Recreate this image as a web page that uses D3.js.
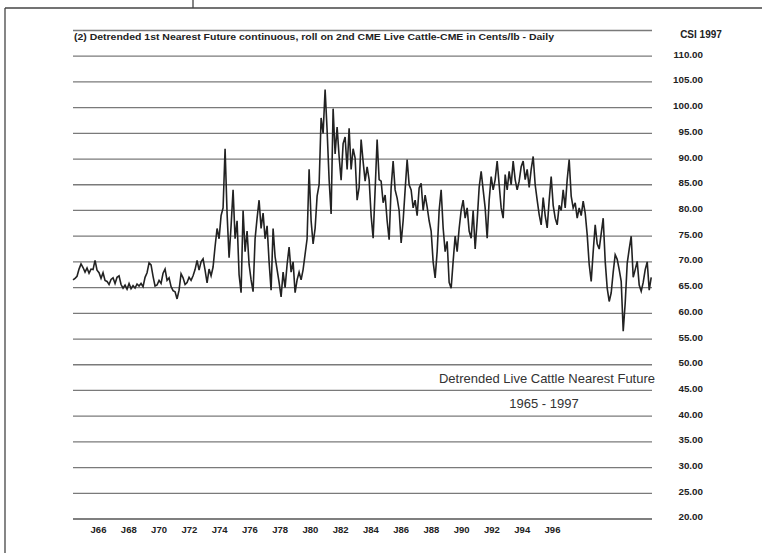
<!DOCTYPE html>
<html>
<head>
<meta charset="utf-8">
<script src="https://cdnjs.cloudflare.com/ajax/libs/d3/7.8.5/d3.min.js"></script>
<style>
  body { margin: 0; background: #fff; }
  svg { display: block; }
</style>
</head>
<body>
<div id="chart"></div>
<script>
// tick labels for the time axis and the price axis
var yearTicks = [1966, 1968, 1970, 1972, 1974, 1976, 1978, 1980, 1982, 1984, 1986, 1988, 1990, 1992, 1994, 1996];
var yearLabels = ["J66", "J68", "J70", "J72", "J74", "J76", "J78", "J80", "J82", "J84", "J86", "J88", "J90", "J92", "J94", "J96"];
var priceTicks = [20, 25, 30, 35, 40, 45, 50, 55, 60, 65, 70, 75, 80, 85, 90, 95, 100, 105, 110];
var gridValues = [20, 25, 30, 35, 40, 45, 50, 55, 60, 65, 70, 75, 80, 85, 90, 95, 100, 105, 110, 115];

// first sample and spacing of the samples (years)
var firstYear = 1964.35;
var stepYears = 0.1322;

// detrended price, cents/lb
var prices = [
  66.5, 66.8, 67.2, 68.6, 69.6, 68.9, 68.0, 68.8, 67.8, 68.6,
  68.5, 70.3, 68.4, 67.9, 66.8, 67.9, 66.4, 66.2, 65.6, 66.6,
  66.9, 65.8, 67.0, 67.3, 65.6, 64.9, 65.5, 64.7, 65.8, 64.8,
  65.4, 64.9, 65.7, 65.3, 65.8, 65.2, 67.0, 67.9, 69.8, 69.4,
  67.2, 65.3, 65.5, 66.4, 65.8, 67.8, 68.6, 66.4, 66.9, 65.2,
  64.4, 64.2, 62.8, 64.5, 67.7, 66.9, 65.6, 66.0, 67.0, 66.4,
  67.3, 68.5, 70.3, 68.4, 70.0, 70.6, 68.4, 65.9, 68.6, 67.3,
  69.0, 73.0, 76.5, 74.5, 79.0, 80.5, 92.0, 79.4, 70.8, 77.0,
  84.0, 74.5, 78.0, 67.5, 64.0, 80.0, 72.0, 76.0, 69.5, 66.5,
  64.2, 74.5, 78.5, 82.0, 76.5, 79.5, 74.5, 77.0, 70.0, 64.5,
  76.5, 71.0, 68.5, 66.0, 63.2, 68.0, 65.0, 69.5, 72.9, 68.0,
  70.0, 64.0, 66.5, 68.0, 66.5, 68.5, 71.5, 74.5, 88.0, 78.0,
  73.5, 76.5, 82.8, 85.0, 98.0, 95.0, 103.5, 95.6, 86.0, 79.3,
  99.8, 91.0, 96.2, 90.5, 85.9, 93.0, 94.3, 88.0, 96.0, 88.0,
  92.0, 90.2, 82.0, 84.5, 93.8, 89.5, 85.7, 88.5, 86.0, 79.0,
  74.6, 84.0, 93.8, 86.0, 85.7, 81.5, 83.0, 78.0, 74.3, 84.4,
  89.6, 84.0, 82.4, 80.0, 73.7, 78.0, 84.0, 89.9, 85.0, 84.0,
  80.5, 82.0, 79.0, 84.4, 85.3, 80.0, 83.0, 80.7, 78.0, 76.0,
  70.0, 66.9, 72.0, 80.0, 84.0, 76.6, 72.0, 74.0, 66.0, 64.9,
  70.1, 75.0, 72.0, 76.5, 80.0, 82.0, 78.5, 80.5, 76.0, 74.6,
  80.0, 72.5, 78.0, 84.5, 87.6, 84.0, 80.5, 74.6, 82.0, 86.6,
  84.0, 86.0, 89.6, 85.0, 80.5, 78.5, 87.0, 84.0, 87.6, 85.0,
  89.6, 86.0, 84.0, 85.7, 88.5, 89.6, 86.0, 88.0, 84.5, 88.0,
  90.5, 85.0, 82.0, 79.2, 77.2, 82.5, 79.0, 76.6, 82.0, 86.6,
  81.0, 78.5, 77.2, 81.0, 80.0, 84.0, 80.5, 86.0, 89.9, 82.8,
  80.5, 81.5, 78.5, 80.5, 79.0, 81.8, 79.5, 75.3, 69.5, 66.2,
  72.0, 77.2, 73.5, 72.5, 75.5, 78.5, 70.1, 64.9, 62.3, 64.0,
  68.0, 71.4, 70.5, 68.5, 66.2, 56.5, 62.0, 69.7, 72.5, 75.0,
  67.0, 68.5, 70.1, 65.5, 64.3, 66.0, 68.5, 70.0, 64.5, 67.0
];

window.onload = function() {
  drawChart();
};

function drawChart() {
  var width = 762;
  var height = 553;
  var font = "Liberation Sans, Arial, sans-serif";

  var svg = d3.select("#chart")
              .append("svg")
              .attr("width", width)
              .attr("height", height);

  // page frame from the scan
  var frame = svg.append("g")
                 .attr("stroke", "#444")
                 .attr("stroke-width", 1.3);
  frame.append("line").attr("x1", 5).attr("y1", 8).attr("x2", 762).attr("y2", 8);
  frame.append("line").attr("x1", 5).attr("y1", 8).attr("x2", 5).attr("y2", 553);
  frame.append("line").attr("x1", 193).attr("y1", 0).attr("x2", 193).attr("y2", 8);

  // scales
  var x = d3.scaleLinear()
            .domain([1966, 1996])
            .range([98, 552]);
  var y = d3.scaleLinear()
            .domain([20, 115])
            .range([519, 30.5]);

  // horizontal grid lines
  svg.append("g")
     .selectAll("line")
     .data(gridValues)
     .enter()
     .append("line")
     .attr("x1", 73)
     .attr("x2", 652)
     .attr("y1", function(d) { return y(d); })
     .attr("y2", function(d) { return y(d); })
     .attr("stroke", function(d) { return d === 20 ? "#555" : "#7a7a7a"; })
     .attr("stroke-width", function(d) { return d === 20 ? 1.7 : 1.3; });

  // price labels on the right
  var yAxis = d3.axisRight(y)
                .tickValues(priceTicks)
                .tickFormat(d3.format(".2f"))
                .tickSize(0)
                .tickPadding(0);
  var yg = svg.append("g")
              .attr("transform", "translate(703,0)")
              .call(yAxis);
  yg.select(".domain").remove();
  yg.selectAll("text")
    .attr("text-anchor", "end")
    .attr("dy", "0.1em")
    .attr("font-family", font)
    .attr("font-weight", "bold")
    .attr("font-size", 9.8)
    .attr("fill", "#222");

  // date labels at the bottom
  var xAxis = d3.axisBottom(x)
                .tickValues(yearTicks)
                .tickFormat(function(d, i) { return yearLabels[i]; })
                .tickSize(0)
                .tickPadding(0);
  var xg = svg.append("g")
              .attr("transform", "translate(0,526)")
              .call(xAxis);
  xg.select(".domain").remove();
  xg.selectAll("text")
    .attr("font-family", font)
    .attr("font-weight", "bold")
    .attr("font-size", 9.5)
    .attr("fill", "#222");

  // the price line
  var line = d3.line()
               .x(function(d, i) { return x(firstYear + i * stepYears); })
               .y(function(d) { return y(d); });
  svg.append("path")
     .datum(prices)
     .attr("d", line)
     .attr("fill", "none")
     .attr("stroke", "#222")
     .attr("stroke-width", 1.6)
     .attr("stroke-linejoin", "miter");

  // titles
  svg.append("text")
     .attr("x", 74)
     .attr("y", 40)
     .attr("textLength", 480)
     .attr("lengthAdjust", "spacingAndGlyphs")
     .attr("font-family", font)
     .attr("font-weight", "bold")
     .attr("font-size", 9)
     .attr("fill", "#222")
     .text("(2) Detrended 1st Nearest Future continuous, roll on 2nd CME Live Cattle-CME in Cents/lb - Daily");

  svg.append("text")
     .attr("x", 701)
     .attr("y", 38)
     .attr("text-anchor", "middle")
     .attr("font-family", font)
     .attr("font-weight", "bold")
     .attr("font-size", 10)
     .attr("fill", "#222")
     .text("CSI 1997");

  svg.append("text")
     .attr("x", 547)
     .attr("y", 383)
     .attr("text-anchor", "middle")
     .attr("font-family", font)
     .attr("font-size", 13)
     .attr("fill", "#333")
     .text("Detrended Live Cattle Nearest Future");

  svg.append("text")
     .attr("x", 544)
     .attr("y", 408)
     .attr("text-anchor", "middle")
     .attr("font-family", font)
     .attr("font-size", 13)
     .attr("fill", "#333")
     .text("1965 - 1997");
}
</script>
</body>
</html>
